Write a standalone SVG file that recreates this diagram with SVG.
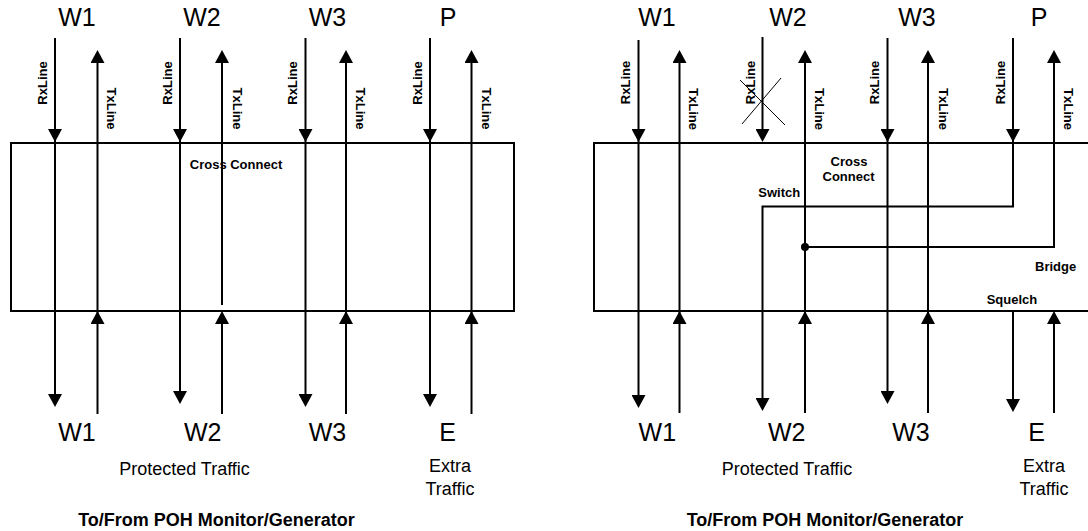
<svg xmlns="http://www.w3.org/2000/svg" width="1088" height="531" viewBox="0 0 1088 531">
<style>
.ln{fill:none;stroke:#000;stroke-width:2}
.ar{marker-end:url(#ah)}
.box{fill:none;stroke:#000;stroke-width:2}
.big{font-family:"Liberation Sans",Arial,sans-serif;font-size:25px;fill:#000;text-anchor:middle}
.mid{font-family:"Liberation Sans",Arial,sans-serif;font-size:18px;fill:#000;text-anchor:middle}
.ttl{font-family:"Liberation Sans",Arial,sans-serif;font-size:18px;font-weight:bold;fill:#000;text-anchor:middle}
.sm{font-family:"Liberation Sans",Arial,sans-serif;font-size:13px;font-weight:bold;fill:#000}
.rot{text-anchor:middle}
</style>
<defs>
<marker id="ah" markerUnits="userSpaceOnUse" markerWidth="14" markerHeight="14" viewBox="0 -7 13 14" refX="0" refY="0" orient="auto">
<path d="M0,-7 L13,0 L0,7 z" fill="#000"/>
</marker>
</defs>

<!-- LEFT DIAGRAM -->
<g id="left-cross-connect">
<rect class="box" x="11" y="143" width="503" height="168"/>
<text class="sm" x="236" y="168.5" text-anchor="middle">Cross Connect</text>
</g>
<g id="left-connectors">
<!-- W1 -->
<path class="ln ar" d="M55,38 V129"/>
<path class="ln ar" d="M55,129 V394"/>
<path class="ln ar" d="M97.5,414 V324"/>
<path class="ln ar" d="M97.5,324 V63"/>
<!-- W2 -->
<path class="ln ar" d="M180,38 V129"/>
<path class="ln ar" d="M180,129 V391"/>
<path class="ln ar" d="M222,414 V324"/>
<path class="ln ar" d="M222,305 V63"/>
<!-- W3 -->
<path class="ln ar" d="M305.5,38 V129"/>
<path class="ln ar" d="M305.5,129 V394"/>
<path class="ln ar" d="M346,414 V324"/>
<path class="ln ar" d="M346,324 V63"/>
<!-- P / E -->
<path class="ln ar" d="M430,38 V129"/>
<path class="ln ar" d="M430,129 V394"/>
<path class="ln ar" d="M471.5,414 V324"/>
<path class="ln ar" d="M471.5,324 V63"/>
</g>
<g id="left-line-labels">
<text class="sm rot" transform="translate(46.7,83) rotate(-90)">RxLine</text>
<text class="sm rot" transform="translate(107,108.5) rotate(90)">TxLine</text>
<text class="sm rot" transform="translate(171.7,83) rotate(-90)">RxLine</text>
<text class="sm rot" transform="translate(232.5,108.5) rotate(90)">TxLine</text>
<text class="sm rot" transform="translate(297,83) rotate(-90)">RxLine</text>
<text class="sm rot" transform="translate(356,108.5) rotate(90)">TxLine</text>
<text class="sm rot" transform="translate(421.5,83) rotate(-90)">RxLine</text>
<text class="sm rot" transform="translate(481.5,108.5) rotate(90)">TxLine</text>
</g>
<g id="left-port-labels">
<text class="big" x="77" y="26">W1</text>
<text class="big" x="202" y="26">W2</text>
<text class="big" x="327.5" y="26">W3</text>
<text class="big" x="448" y="26">P</text>
<text class="big" x="77" y="440.7">W1</text>
<text class="big" x="202.7" y="440.7">W2</text>
<text class="big" x="327.5" y="440.7">W3</text>
<text class="big" x="447.5" y="440.7">E</text>
</g>
<g id="left-traffic-labels">
<text class="mid" x="184.5" y="475">Protected Traffic</text>
<text class="mid" x="450" y="472">Extra</text>
<text class="mid" x="450" y="495">Traffic</text>
<text class="ttl" x="216.5" y="526">To/From POH Monitor/Generator</text>
</g>

<!-- RIGHT DIAGRAM -->
<g id="right-cross-connect">
<rect class="box" x="594" y="143" width="510" height="168"/>
<text class="sm" x="849" y="166" text-anchor="middle">Cross</text>
<text class="sm" x="848.5" y="181.3" text-anchor="middle">Connect</text>
<text class="sm" x="758.3" y="196.7">Switch</text>
<text class="sm" x="1035" y="270.7">Bridge</text>
<text class="sm" x="986.7" y="304">Squelch</text>
</g>
<g id="right-connectors">
<!-- W1 -->
<path class="ln ar" d="M638.5,40 V129"/>
<path class="ln ar" d="M638.5,129 V395"/>
<path class="ln ar" d="M679.5,413 V324"/>
<path class="ln ar" d="M679.5,324 V63"/>
<!-- W2 (failed Rx, crossed out) -->
<path class="ln ar" d="M762.5,37 V129"/>
<path d="M740,80 L785,125 M742,124 L781,78" fill="none" stroke="#000" stroke-width="1"/>
<path class="ln ar" d="M805,413 V324"/>
<path class="ln ar" d="M805,324 V63"/>
<!-- W3 -->
<path class="ln ar" d="M887.5,38 V129"/>
<path class="ln ar" d="M887.5,129 V391"/>
<path class="ln ar" d="M928,413 V324"/>
<path class="ln ar" d="M928,324 V63"/>
<!-- P Rx: switch to W2 -->
<path class="ln ar" d="M1013,38 V129"/>
<path class="ln ar" d="M1013,129 V206.5 H762.5 V398"/>
<!-- Bridge: W2 Tx to P Tx -->
<path class="ln ar" d="M805,247 H1054 V63"/>
<circle cx="805" cy="247" r="4" fill="#000"/>
<!-- E: squelch -->
<path class="ln ar" d="M1013,310 V399"/>
<path class="ln ar" d="M1054,413 V324"/>
</g>
<g id="right-line-labels">
<text class="sm rot" transform="translate(630,82.5) rotate(-90)">RxLine</text>
<text class="sm rot" transform="translate(689,109) rotate(90)">TxLine</text>
<text class="sm rot" transform="translate(755,82.5) rotate(-90)">RxLine</text>
<text class="sm rot" transform="translate(815,109) rotate(90)">TxLine</text>
<text class="sm rot" transform="translate(879,82.5) rotate(-90)">RxLine</text>
<text class="sm rot" transform="translate(939,109) rotate(90)">TxLine</text>
<text class="sm rot" transform="translate(1004.5,82.5) rotate(-90)">RxLine</text>
<text class="sm rot" transform="translate(1064,109) rotate(90)">TxLine</text>
</g>
<g id="right-port-labels">
<text class="big" x="657" y="26">W1</text>
<text class="big" x="788" y="26">W2</text>
<text class="big" x="917" y="26">W3</text>
<text class="big" x="1039" y="26">P</text>
<text class="big" x="657.3" y="440.7">W1</text>
<text class="big" x="786.7" y="440.7">W2</text>
<text class="big" x="911" y="440.7">W3</text>
<text class="big" x="1036.7" y="440.7">E</text>
</g>
<g id="right-traffic-labels">
<text class="mid" x="787" y="475">Protected Traffic</text>
<text class="mid" x="1044" y="472">Extra</text>
<text class="mid" x="1044" y="495">Traffic</text>
<text class="ttl" x="825" y="526">To/From POH Monitor/Generator</text>
</g>
</svg>
